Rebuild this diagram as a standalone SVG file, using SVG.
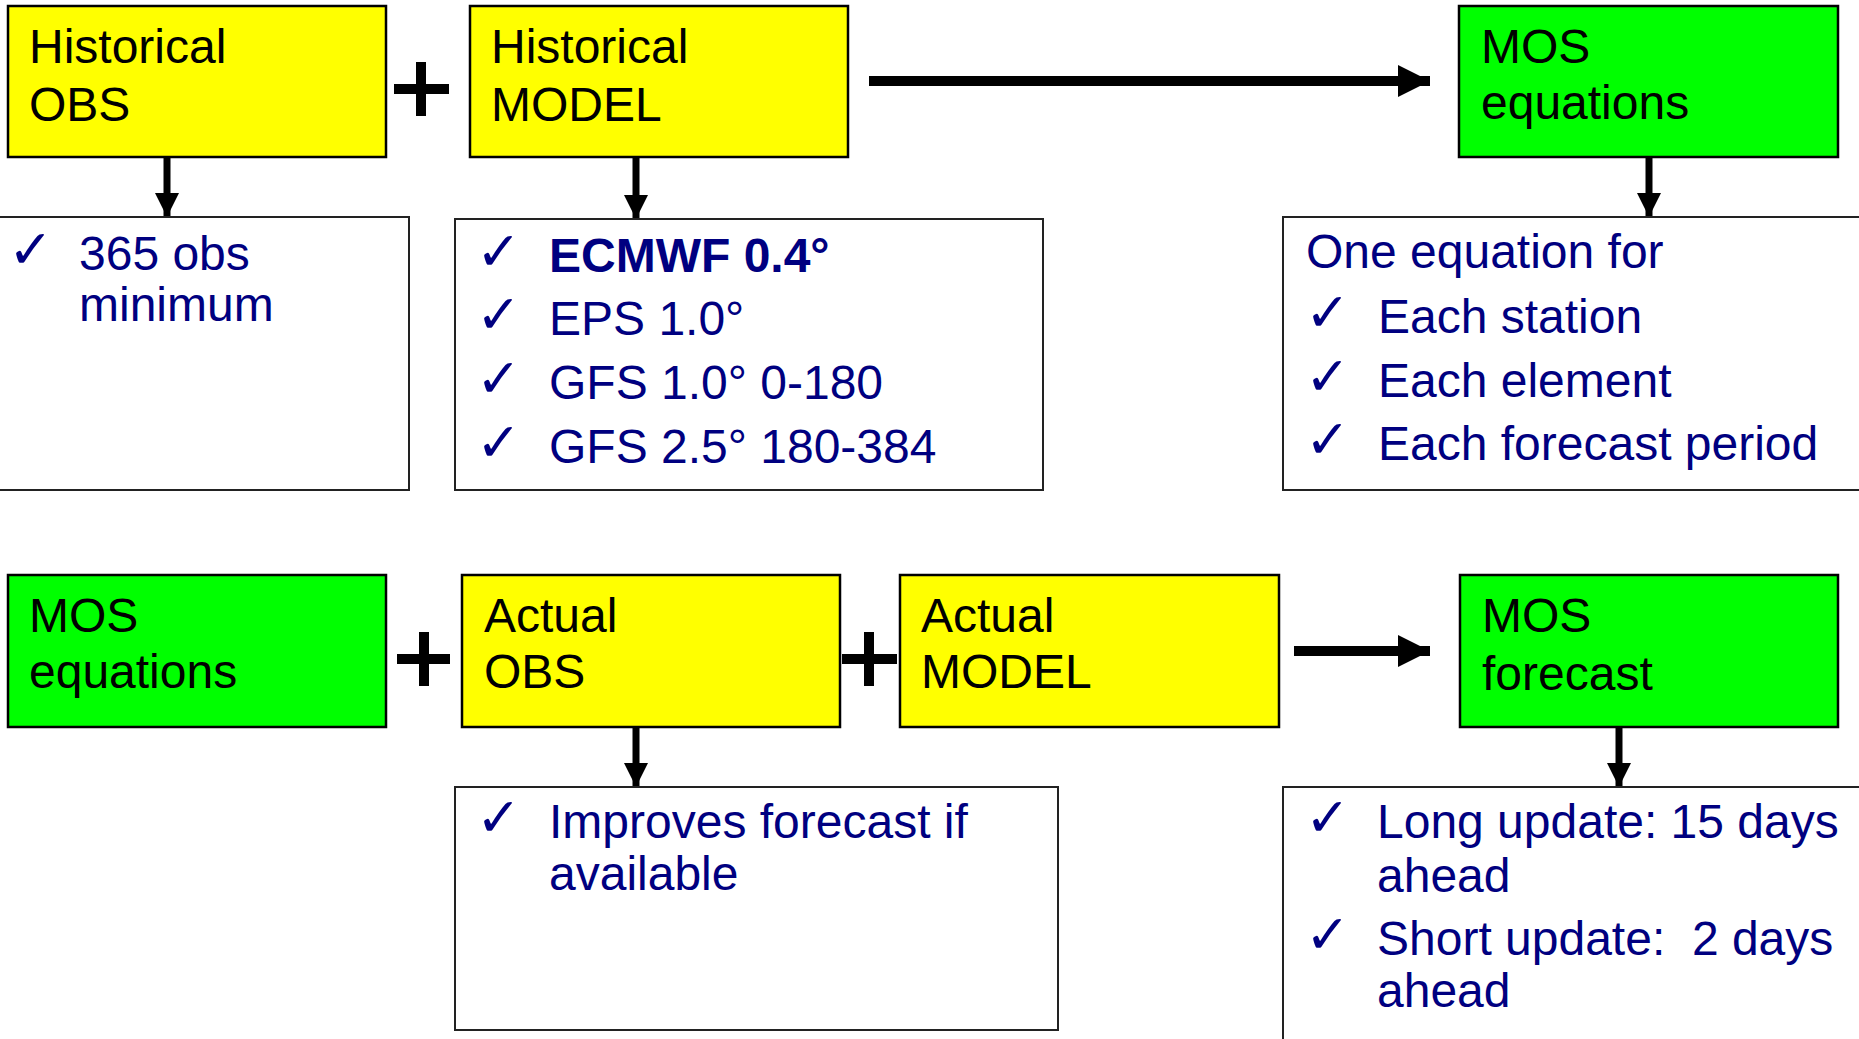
<svg xmlns="http://www.w3.org/2000/svg" width="1859" height="1039" viewBox="0 0 1859 1039">
<defs>
<style>
.y{fill:#ffff00;stroke:#000;stroke-width:2.5}
.g{fill:#00ff00;stroke:#000;stroke-width:2.5}
.w{fill:#fff;stroke:#222;stroke-width:2}
.t{font-family:"Liberation Sans",Arial,sans-serif;font-size:48px;fill:#000}
.b{font-family:"Liberation Sans",Arial,sans-serif;font-size:48px;fill:#000080;white-space:pre}
.bb{font-weight:bold}
.ck{font-family:"DejaVu Sans",sans-serif;font-size:54px;fill:#000080}
.ln{stroke:#000;stroke-width:7;fill:none}
.big{stroke:#000;stroke-width:10;fill:none}
.plus{stroke:#000;stroke-width:10}
</style>
<marker id="ah" markerUnits="userSpaceOnUse" markerWidth="24" markerHeight="26" refX="24" refY="12" orient="auto" viewBox="0 0 24 24">
<path d="M0,0 L24,12 L0,24 Z" fill="#000"/>
</marker>
<marker id="bh" markerUnits="userSpaceOnUse" markerWidth="32" markerHeight="32" refX="32" refY="16" orient="auto" viewBox="0 0 32 32">
<path d="M0,0 L32,16 L0,32 Z" fill="#000"/>
</marker>
</defs>

<g id="connectors">
<line class="ln" x1="167" y1="157" x2="167" y2="217" marker-end="url(#ah)"/>
<line class="ln" x1="636" y1="157" x2="636" y2="219" marker-end="url(#ah)"/>
<line class="ln" x1="1649" y1="157" x2="1649" y2="217" marker-end="url(#ah)"/>
<line class="big" x1="869" y1="81" x2="1430" y2="81" marker-end="url(#bh)"/>
<line class="ln" x1="636" y1="727" x2="636" y2="787" marker-end="url(#ah)"/>
<line class="ln" x1="1619" y1="727" x2="1619" y2="787" marker-end="url(#ah)"/>
<line class="big" x1="1294" y1="651" x2="1430" y2="651" marker-end="url(#bh)"/>
</g>

<g id="plus1"><line class="plus" x1="394" y1="89" x2="449" y2="89"/><line class="plus" x1="421" y1="62" x2="421" y2="116"/></g>
<g id="plus2"><line class="plus" x1="397" y1="659" x2="450" y2="659"/><line class="plus" x1="424" y1="632" x2="424" y2="686"/></g>
<g id="plus3"><line class="plus" x1="842" y1="659" x2="897" y2="659"/><line class="plus" x1="869" y1="632" x2="869" y2="686"/></g>

<g id="hist-obs">
<rect class="y" x="8" y="6" width="378" height="151"/>
<text class="t" x="29" y="63">Historical</text>
<text class="t" x="29" y="121">OBS</text>
</g>
<g id="hist-model">
<rect class="y" x="470" y="6" width="378" height="151"/>
<text class="t" x="491" y="63">Historical</text>
<text class="t" x="491" y="121">MODEL</text>
</g>
<g id="mos-eq-top">
<rect class="g" x="1459" y="6" width="379" height="151"/>
<text class="t" x="1481" y="63">MOS</text>
<text class="t" x="1481" y="119">equations</text>
</g>

<g id="obs-info">
<rect class="w" x="-2" y="217" width="411" height="273"/>
<text class="ck" x="8" y="268">✓</text>
<text class="b" x="79" y="270">365 obs</text>
<text class="b" x="79" y="321">minimum</text>
</g>
<g id="model-info">
<rect class="w" x="455" y="219" width="588" height="271"/>
<text class="ck" x="476" y="270">✓</text>
<text class="b bb" x="549" y="272">ECMWF 0.4°</text>
<text class="ck" x="476" y="333">✓</text>
<text class="b" x="549" y="335">EPS 1.0°</text>
<text class="ck" x="476" y="397">✓</text>
<text class="b" x="549" y="399">GFS 1.0° 0-180</text>
<text class="ck" x="476" y="461">✓</text>
<text class="b" x="549" y="463">GFS 2.5° 180-384</text>
</g>
<g id="eq-info">
<rect class="w" x="1283" y="217" width="590" height="273"/>
<text class="b" x="1306" y="268">One equation for</text>
<text class="ck" x="1305" y="331">✓</text>
<text class="b" x="1378" y="333">Each station</text>
<text class="ck" x="1305" y="395">✓</text>
<text class="b" x="1378" y="397">Each element</text>
<text class="ck" x="1305" y="458">✓</text>
<text class="b" x="1378" y="460">Each forecast period</text>
</g>

<g id="mos-eq-bottom">
<rect class="g" x="8" y="575" width="378" height="152"/>
<text class="t" x="29" y="632">MOS</text>
<text class="t" x="29" y="688">equations</text>
</g>
<g id="actual-obs">
<rect class="y" x="462" y="575" width="378" height="152"/>
<text class="t" x="484" y="632">Actual</text>
<text class="t" x="484" y="688">OBS</text>
</g>
<g id="actual-model">
<rect class="y" x="900" y="575" width="379" height="152"/>
<text class="t" x="921" y="632">Actual</text>
<text class="t" x="921" y="688">MODEL</text>
</g>
<g id="mos-forecast">
<rect class="g" x="1460" y="575" width="378" height="152"/>
<text class="t" x="1482" y="632">MOS</text>
<text class="t" x="1482" y="690">forecast</text>
</g>

<g id="obs-actual-info">
<rect class="w" x="455" y="787" width="603" height="243"/>
<text class="ck" x="476" y="836">✓</text>
<text class="b" x="549" y="838">Improves forecast if</text>
<text class="b" x="549" y="890">available</text>
</g>
<g id="forecast-info">
<rect class="w" x="1283" y="787" width="590" height="270"/>
<text class="ck" x="1305" y="836">✓</text>
<text class="b" x="1377" y="838">Long update: 15 days</text>
<text class="b" x="1377" y="892">ahead</text>
<text class="ck" x="1305" y="953">✓</text>
<text class="b" x="1377" y="955" xml:space="preserve">Short update:  2 days</text>
<text class="b" x="1377" y="1007">ahead</text>
</g>
</svg>
